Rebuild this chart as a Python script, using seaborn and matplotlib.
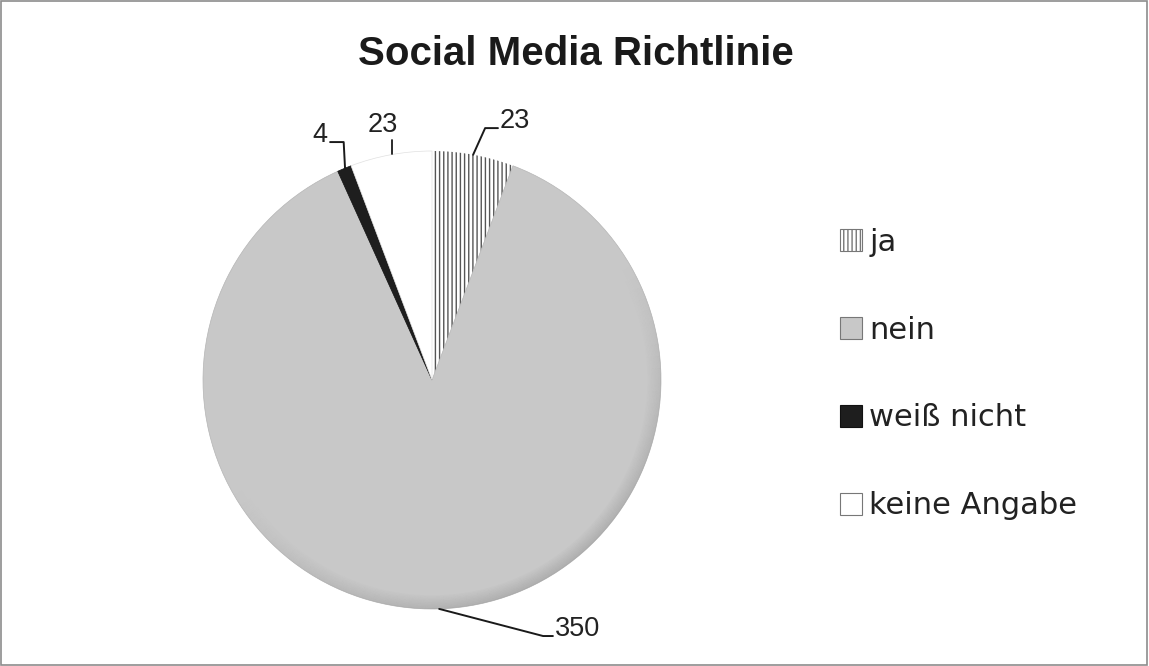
import numpy as np
import matplotlib
matplotlib.use("Agg")
import matplotlib.pyplot as plt
import seaborn as sns
from matplotlib.patches import Rectangle, Wedge

categories = ["ja", "nein", "weiß nicht", "keine Angabe"]
values = [23, 350, 4, 23]
colors = ["#ffffff", "#c8c8c8", "#1e1e1e", "#ffffff"]

sns.set_theme(style="white")
plt.rcParams['font.family'] = ['Liberation Sans', 'DejaVu Sans']
plt.rcParams['hatch.linewidth'] = 1.0

W, H = 1149, 666
fig = plt.figure(figsize=(W / 100, H / 100), dpi=100)
fig.patch.set_facecolor("white")
fig.add_artist(Rectangle((0.001, 0.001), 0.997, 0.997, transform=fig.transFigure,
                         fill=False, edgecolor="#8c8c8c", linewidth=1.2))

cx, cy, r = 432, 380, 229
ax = fig.add_axes([(cx - r) / W, (H - cy - r) / H, 2 * r / W, 2 * r / H])
wedges, _ = ax.pie(values, colors=colors, startangle=90, counterclock=False,
                   radius=1.0, wedgeprops=dict(linewidth=0.5, edgecolor="#c0c0c0"))
wedges[0].set_hatch("||||")
wedges[0].set_edgecolor("#555555")
wedges[0].set_linewidth(0)
wedges[1].set_edgecolor("#b5b5b5")
wedges[2].set_edgecolor("#111111")
wedges[3].set_edgecolor("#e0e0e0")

# subtle rim shading, fading smoothly, strongest toward the lower right
step = 3
for a0 in range(-180, 180, step):
    am = np.deg2rad(a0 + step / 2 + 60)
    s = max(0.0, np.cos(am))
    if s <= 0:
        continue
    for k in range(10):
        rr = 1.0 - k * 0.006
        ax.add_patch(Wedge((0, 0), rr, a0, a0 + step, width=0.006, facecolor="#606060",
                           edgecolor="none", alpha=0.24 * s * (1 - k / 10), zorder=3))

ax.set_xlim(-1, 1)
ax.set_ylim(-1, 1)
ax.set_aspect("equal")
ax.axis("off")

def mid(w):
    a = np.deg2rad((w.theta1 + w.theta2) / 2)
    return np.cos(a), np.sin(a)

lc = "#1a1a1a"
fs = 19.5
tc = "#222222"
# ja
x0, y0 = mid(wedges[0])
ax.plot([x0, 0.232, 0.288], [y0, 1.100, 1.100], color=lc, lw=1.4, clip_on=False)
ax.text(0.297, 1.100, str(values[0]), ha="left", va="baseline", fontsize=fs, color=tc)
# weiß nicht
x0, y0 = mid(wedges[2])
ax.plot([x0 + 0.003, x0 - 0.003, -0.445], [y0, 1.039, 1.039], color=lc, lw=1.4, clip_on=False)
ax.text(-0.459, 1.039, str(values[2]), ha="right", va="baseline", fontsize=fs, color=tc)
# keine Angabe
x0, y0 = mid(wedges[3])
ax.plot([x0 + 0.005, x0 + 0.005], [0.985, 1.048], color=lc, lw=1.3, clip_on=False)
ax.text(-0.214, 1.083, str(values[3]), ha="center", va="baseline", fontsize=fs, color=tc)
# nein
x0, y0 = mid(wedges[1])
ax.plot([x0, 0.485, 0.528], [y0, -1.118, -1.118], color=lc, lw=1.4, clip_on=False)
ax.text(0.537, -1.118, str(values[1]), ha="left", va="baseline", fontsize=fs, color=tc)

fig.text(576 / W, 1 - 54 / H, "Social Media Richtlinie", ha="center", va="center",
         fontsize=29, fontweight="bold", color="#1a1a1a")

# legend
handles = []
for i, c in enumerate(categories):
    p = Rectangle((0, 0), 1, 1, facecolor=colors[i],
                  edgecolor="#777777" if i != 2 else "#111111", linewidth=0.8,
                  hatch="||||" if i == 0 else None)
    handles.append(p)
leg = fig.legend(handles, categories, loc="center left",
                 bbox_to_anchor=(812 / W, 1 - 374 / H), frameon=False,
                 prop={"family": "DejaVu Sans", "size": 22},
                 labelspacing=1.93, handlelength=0.72, handleheight=0.72,
                 handletextpad=0.25, labelcolor="#222222")

fig.savefig("out.png", dpi=100, facecolor="white")
